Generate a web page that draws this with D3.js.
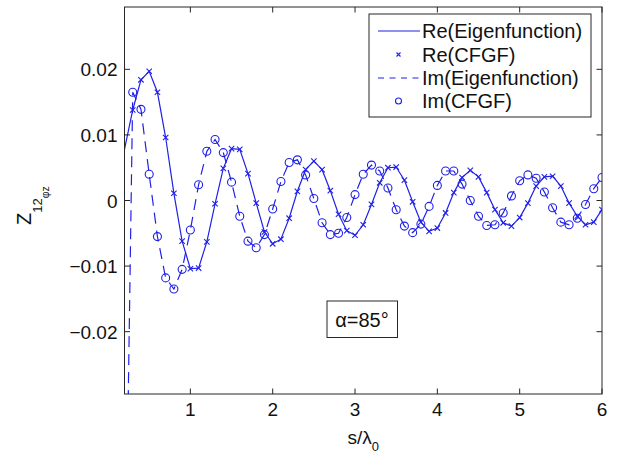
<!DOCTYPE html>
<html>
<head>
<meta charset="utf-8">
<script src="https://cdn.jsdelivr.net/npm/d3@7"></script>
<style>
  html, body { margin: 0; padding: 0; background: #fff; }
  svg { display: block; font-family: "Liberation Sans", Arial, Helvetica, sans-serif; }
</style>
</head>
<body>
<svg id="chart" width="621" height="455"></svg>
<script>
// ---- data ----
const sValues = [0.3,0.4,0.5,0.6,0.7,0.8,0.9,1.0,1.1,1.2,1.3,1.4,1.5,1.6,1.7,1.8,1.9,2.0,
  2.1,2.2,2.3,2.4,2.5,2.6,2.7,2.8,2.9,3.0,3.1,3.2,3.3,3.4,3.5,3.6,3.7,3.8,3.9,4.0,
  4.1,4.2,4.3,4.4,4.5,4.6,4.7,4.8,4.9,5.0,5.1,5.2,5.3,5.4,5.5,5.6,5.7,5.8,5.9,6.0];

const reCFGF = [0.0138,0.0184,0.0197,0.0165,0.0096,0.0011,-0.0062,-0.0104,-0.0103,-0.0063,
  -0.0005,0.0049,0.0079,0.0078,0.0041,-0.0004,-0.0048,-0.0066,-0.0059,-0.0027,0.0014,0.0047,
  0.0060,0.0047,0.0015,-0.0021,-0.0046,-0.0053,-0.0037,-0.0006,0.0027,0.0050,0.0051,0.0031,
  -0.0002,-0.0033,-0.0047,-0.0042,-0.0019,0.0012,0.0035,0.0046,0.0036,0.0012,-0.0014,-0.0034,
  -0.0039,-0.0026,-0.0004,0.0022,0.0036,0.0037,0.0022,-0.0004,-0.0024,-0.0037,-0.0033,-0.0014];

const imCFGF = [0.0165,0.0139,0.0040,-0.0055,-0.0118,-0.0135,-0.0105,-0.0045,0.0024,0.0075,
  0.0093,0.0073,0.0028,-0.0024,-0.0062,-0.0072,-0.0052,-0.0013,0.0029,0.0058,0.0062,0.0039,
  0.0003,-0.0034,-0.0052,-0.0050,-0.0026,0.0009,0.0040,0.0054,0.0045,0.0019,-0.0014,-0.0039,
  -0.0049,-0.0036,-0.0009,0.0023,0.0045,0.0045,0.0025,0.0000,-0.0024,-0.0038,-0.0037,-0.0019,
  0.0007,0.0030,0.0039,0.0034,0.0013,-0.0011,-0.0033,-0.0037,-0.0027,-0.0006,0.0018,0.0035];

// eigenfunction curves: same samples plus the first point at s = 0.2
const eigenStartS = 0.2;
const reEigenStart = 0.0078;
const imEigenStart = -0.069;

const xTicks = [1, 2, 3, 4, 5, 6];
const yTicks = [0.02, 0.01, 0, -0.01, -0.02];
const yTickLabels = ["0.02", "0.01", "0", "\u22120.01", "\u22120.02"];
const legendLabels = ["Re(Eigenfunction)", "Re(CFGF)", "Im(Eigenfunction)", "Im(CFGF)"];
const annotation = "\u03B1=85\u00B0";

// ---- layout ----
const L = 124.5, R = 602, T = 7, B = 394;
const color = "#2020e8";
const axisColor = "#262626";
const fontSize = 19;
const legendFont = 20;

const svg = d3.select("#chart");
const x = d3.scaleLinear().domain([0.2, 6]).range([L, R]);
const y = d3.scaleLinear().domain([-0.0295, 0.0295]).range([B, T]);

svg.append("defs").append("clipPath").attr("id", "clip")
  .append("rect").attr("x", L).attr("y", T).attr("width", R - L).attr("height", B - T);

const rePts = [[eigenStartS, reEigenStart]].concat(sValues.map((s, i) => [s, reCFGF[i]]));
const imPts = [[eigenStartS, imEigenStart]].concat(sValues.map((s, i) => [s, imCFGF[i]]));
const line = d3.line().x(d => x(d[0])).y(d => y(d[1]));

const plot = svg.append("g").attr("clip-path", "url(#clip)");
plot.append("path").attr("d", line(rePts)).attr("fill", "none")
  .attr("stroke", color).attr("stroke-width", 1.2);
plot.append("path").attr("d", line(imPts)).attr("fill", "none")
  .attr("stroke", color).attr("stroke-width", 1.2).attr("stroke-dasharray", "11,7");

// x markers
const xm = 2.7;
plot.selectAll("path.xm").data(sValues).enter().append("path").attr("class", "xm")
  .attr("d", (s, i) => {
    const cx = x(s), cy = y(reCFGF[i]);
    return `M${cx - xm},${cy - xm}L${cx + xm},${cy + xm}M${cx - xm},${cy + xm}L${cx + xm},${cy - xm}`;
  })
  .attr("stroke", color).attr("stroke-width", 1.1).attr("fill", "none");

// circle markers
plot.selectAll("circle.om").data(sValues).enter().append("circle").attr("class", "om")
  .attr("cx", s => x(s)).attr("cy", (s, i) => y(imCFGF[i])).attr("r", 4)
  .attr("fill", "none").attr("stroke", color).attr("stroke-width", 1.1);

// ---- axes frame ----
const axisG = svg.append("g");
axisG.append("rect").attr("x", L).attr("y", T).attr("width", R - L).attr("height", B - T)
  .attr("fill", "none").attr("stroke", axisColor).attr("stroke-width", 1);

const tickLen = 5.5;
xTicks.forEach(t => {
  const px = x(t);
  axisG.append("line").attr("x1", px).attr("x2", px).attr("y1", B).attr("y2", B - tickLen).attr("stroke", axisColor);
  axisG.append("line").attr("x1", px).attr("x2", px).attr("y1", T).attr("y2", T + tickLen).attr("stroke", axisColor);
  axisG.append("text").attr("x", px).attr("y", 416).attr("text-anchor", "middle")
    .attr("font-size", fontSize).attr("fill", "#111").text(t);
});
yTicks.forEach((t, i) => {
  const py = y(t);
  axisG.append("line").attr("x1", L).attr("x2", L + tickLen).attr("y1", py).attr("y2", py).attr("stroke", axisColor);
  axisG.append("line").attr("x1", R).attr("x2", R - tickLen).attr("y1", py).attr("y2", py).attr("stroke", axisColor);
  axisG.append("text").attr("x", 117.5).attr("y", py + 7).attr("text-anchor", "end")
    .attr("font-size", fontSize).attr("fill", "#111").text(yTickLabels[i]);
});

// x label: s/λ0
const xl = svg.append("text").attr("x", (L + R) / 2).attr("y", 444).attr("text-anchor", "middle")
  .attr("font-size", fontSize).attr("fill", "#111");
xl.append("tspan").text("s/\u03BB");
xl.append("tspan").attr("font-size", 13).attr("dy", 7).text("0");

// y label: Z_{12_{φz}}
const yl = svg.append("text").attr("transform", "translate(31,225) rotate(-90)")
  .attr("font-size", 20).attr("fill", "#111");
yl.append("tspan").text("Z");
yl.append("tspan").attr("font-size", 13).attr("dy", 11).text("12");
yl.append("tspan").attr("font-size", 10.5).attr("dy", 7).text("\u03C6z");

// ---- legend ----
const lg = svg.append("g");
lg.append("rect").attr("x", 369).attr("y", 14).attr("width", 222).attr("height", 103)
  .attr("fill", "#fff").attr("stroke", axisColor).attr("stroke-width", 1);
const rowsY = [31, 54.5, 78, 101];
legendLabels.forEach((lab, i) => {
  const ry = rowsY[i];
  if (i === 0 || i === 2) {
    lg.append("line").attr("x1", 378).attr("x2", 420).attr("y1", ry).attr("y2", ry)
      .attr("stroke", color).attr("stroke-width", 1.2)
      .attr("stroke-dasharray", i === 2 ? "6,5.5" : null);
  } else if (i === 1) {
    const cx = 398.5, s = 2;
    lg.append("path").attr("d", `M${cx - s},${ry - s}L${cx + s},${ry + s}M${cx - s},${ry + s}L${cx + s},${ry - s}`)
      .attr("stroke", color).attr("stroke-width", 1.1);
  } else {
    lg.append("circle").attr("cx", 398.5).attr("cy", ry).attr("r", 3)
      .attr("fill", "none").attr("stroke", color).attr("stroke-width", 1.1);
  }
  lg.append("text").attr("x", 422).attr("y", ry + 7).attr("font-size", legendFont)
    .attr("fill", "#111").text(lab);
});

// ---- annotation box ----
const ab = svg.append("g");
ab.append("rect").attr("x", 327).attr("y", 301).attr("width", 70.5).attr("height", 36.5)
  .attr("fill", "#fff").attr("stroke", axisColor).attr("stroke-width", 1);
ab.append("text").attr("x", 362).attr("y", 326.5).attr("text-anchor", "middle")
  .attr("font-size", legendFont).attr("fill", "#111").text(annotation);
</script>
</body>
</html>
